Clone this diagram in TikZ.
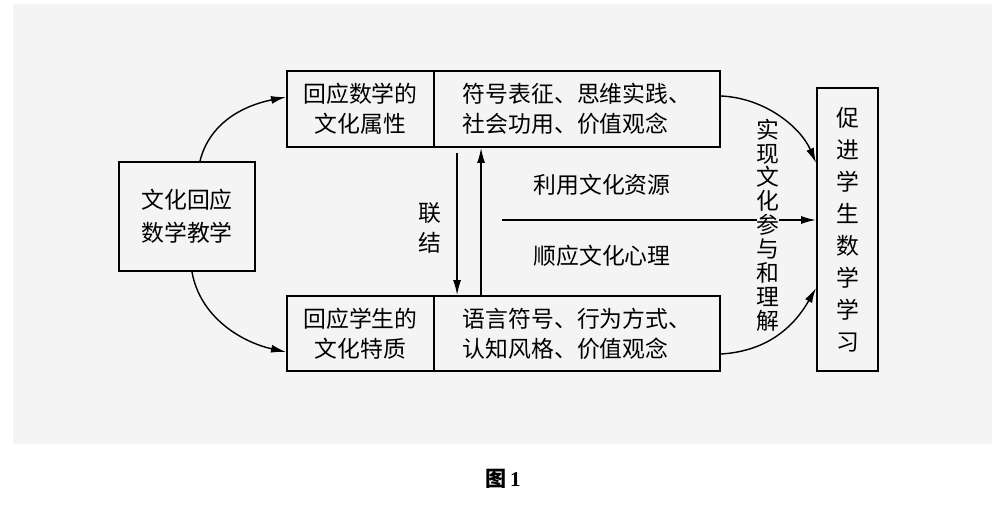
\documentclass[tikz,border=0pt]{standalone}
\usepackage{fontspec}
\setmainfont{Liberation Serif}
\newfontfamily\cjk{Noto Sans CJK SC}
\usetikzlibrary{arrows.meta,calc}
\definecolor{bgc}{RGB}{244,244,244}
\begin{document}
\begin{tikzpicture}[x=0.02cm,y=-0.02cm,
 box/.style={draw,line width=1.1pt,inner sep=0pt,fill=bgc,align=center,font=\cjk\fontsize{13pt}{17pt}\selectfont},
 conn/.style={line width=0.8pt,-{Latex[length=0.3cm,width=0.16cm]}},
 lbl/.style={font=\cjk\fontsize{13pt}{17pt}\selectfont,align=center,inner sep=1pt}]
\useasboundingbox (0,0) rectangle (1000,513);
\fill[bgc] (13,4) rectangle (992,444);
% boxes
\node[box,minimum width=2.72cm,minimum height=2.18cm,font=\cjk\fontsize{13pt}{18.7pt}\selectfont] (lb) at (187,216.5) {文化回应\\数学教学};
\node[box,minimum width=2.94cm,minimum height=1.52cm] (tl) at (360.5,109) {回应数学的\\文化属性};
\node[box,minimum width=5.72cm,minimum height=1.52cm,align=left] (tr) at (577,109) {符号表征、思维实践、\\社会功用、价值观念};
\node[box,minimum width=2.94cm,minimum height=1.5cm] (bl) at (360.5,333.5) {回应学生的\\文化特质};
\node[box,minimum width=5.72cm,minimum height=1.5cm,align=left] (br) at (577,333.5) {语言符号、行为方式、\\认知风格、价值观念};
\node[box,minimum width=1.22cm,minimum height=5.66cm,font=\cjk\fontsize{13pt}{18.2pt}\selectfont] (rb) at (847.5,229.5) {促\\进\\学\\生\\数\\学\\学\\习};
% labels
\node[lbl] (lj) at (430,228) {联\\结};
\node[lbl] (ly) at (602,185) {利用文化资源};
\node[lbl] (sy) at (602,256) {顺应文化心理};
% coordinates
\coordinate (d) at ($(tr.south west)+(24,5)$);
\coordinate (u) at ($(tr.south west)+(48,0)$);
\coordinate (h) at (502,220);
% connectors
\draw[conn] (d) -- (d |- br.north);
\draw[conn] (u |- br.north) -- (u);
\draw[conn] (h) -- (h -| rb.west);
\node[lbl,fill=bgc,inner sep=0pt,font=\cjk\fontsize{13pt}{13.6pt}\selectfont] (sx) at (768,225) {实\\现\\文\\化\\参\\与\\和\\理\\解};
\draw[conn] ([xshift=0.26cm]lb.north) .. controls +(10,-40) and +(-40,8) .. ([yshift=0.24cm]tl.west);
\draw[conn] ([xshift=0.1cm]lb.south) .. controls +(8,45) and +(-45,-10) .. ([yshift=-0.37cm]bl.west);
\draw[conn] ([yshift=0.26cm]tr.east) .. controls +(45,2) and +(-15,-35) .. ([yshift=1.33cm]rb.west);
\draw[conn] ([yshift=-0.41cm]br.east) .. controls +(50,-3) and +(-20,35) .. ([yshift=-1.17cm]rb.west);
% caption
\node (cap) at (503,479) {\cjk\fontsize{12pt}{14pt}\selectfont\bfseries 图\,\textrm{\bfseries 1}};
\end{tikzpicture}
\end{document}
